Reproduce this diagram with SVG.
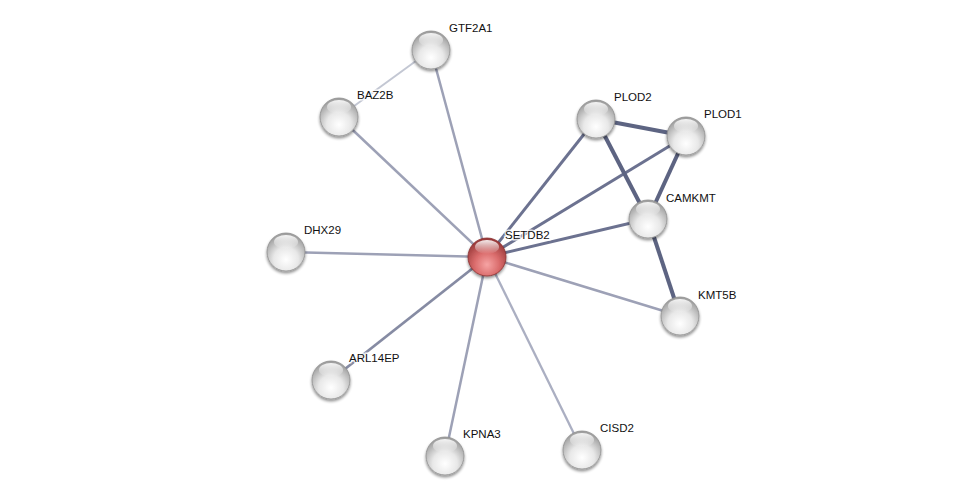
<svg xmlns="http://www.w3.org/2000/svg" width="976" height="501" viewBox="0 0 976 501">
<style>
.e{fill:none;stroke-linecap:butt}
.w1{stroke:#c3c7d3;stroke-width:2}
.w0{stroke:#abafc2;stroke-width:2.3}
.w2{stroke:#9da1b6;stroke-width:2.5}
.w5{stroke:#868ba3;stroke-width:2.8}
.w3{stroke:#6c7290;stroke-width:3}
.w4{stroke:#5d6482;stroke-width:4}
text{font-family:"Liberation Sans",Arial,sans-serif;font-size:11.5px;fill:#111;paint-order:stroke;stroke:#fff;stroke-width:3px;stroke-opacity:0.8}
</style>
<defs>
<radialGradient id="g" cx="0.5" cy="0.7" r="0.65">
<stop offset="0" stop-color="#ffffff"/>
<stop offset="0.5" stop-color="#e8e8e8"/>
<stop offset="1" stop-color="#a0a0a0"/>
</radialGradient>
<radialGradient id="gr" cx="0.5" cy="0.7" r="0.65">
<stop offset="0" stop-color="#f6a4a4"/>
<stop offset="0.5" stop-color="#da6c6c"/>
<stop offset="1" stop-color="#9a3a3a"/>
</radialGradient>
<linearGradient id="hl" x1="0" y1="0" x2="0" y2="1">
<stop offset="0" stop-color="#fff" stop-opacity="0.9"/>
<stop offset="1" stop-color="#fff" stop-opacity="0"/>
</linearGradient>
<filter id="sh" x="-30%" y="-30%" width="160%" height="170%">
<feGaussianBlur in="SourceAlpha" stdDeviation="1.5"/>
<feOffset dy="2" result="b"/>
<feComponentTransfer><feFuncA type="linear" slope="0.45"/></feComponentTransfer>
<feMerge><feMergeNode/><feMergeNode in="SourceGraphic"/></feMerge>
</filter>
<g id="ball">
<circle r="19" fill="url(#g)" stroke="#8f8f8f" stroke-width="0.8" filter="url(#sh)"/>
<ellipse cy="-10" rx="12" ry="7" fill="url(#hl)"/>
</g>
</defs>
<rect width="976" height="501" fill="#fff"/>
<g id="edges">
<line class="e w1" x1="339" y1="117" x2="431" y2="50"/>
<line class="e w2" x1="487" y1="257" x2="431" y2="50"/>
<line class="e w2" x1="487" y1="257" x2="339" y2="117"/>
<line class="e w2" x1="487" y1="257" x2="286" y2="252"/>
<line class="e w5" x1="487" y1="257" x2="331" y2="380"/>
<line class="e w2" x1="487" y1="257" x2="445" y2="456"/>
<line class="e w0" x1="487" y1="257" x2="582" y2="450"/>
<line class="e w2" x1="487" y1="257" x2="680" y2="316"/>
<line class="e w3" x1="487" y1="257" x2="596" y2="119"/>
<line class="e w3" x1="487" y1="257" x2="686" y2="136"/>
<line class="e w3" x1="487" y1="257" x2="648" y2="219"/>
<line class="e w4" x1="596" y1="119" x2="686" y2="136"/>
<line class="e w4" x1="596" y1="119" x2="648" y2="219"/>
<line class="e w4" x1="686" y1="136" x2="648" y2="219"/>
<line class="e w4" x1="648" y1="219" x2="680" y2="316"/>
</g>
<g id="GTF2A1"><use href="#ball" x="431" y="50"/><text x="449" y="32">GTF2A1</text></g>
<g id="BAZ2B"><use href="#ball" x="339" y="117"/><text x="357" y="99">BAZ2B</text></g>
<g id="PLOD2"><use href="#ball" x="596" y="119"/><text x="614" y="101">PLOD2</text></g>
<g id="PLOD1"><use href="#ball" x="686" y="136"/><text x="704" y="118">PLOD1</text></g>
<g id="CAMKMT"><use href="#ball" x="648" y="219"/><text x="666" y="202">CAMKMT</text></g>
<g id="DHX29"><use href="#ball" x="286" y="252"/><text x="304" y="234">DHX29</text></g>
<g id="KMT5B"><use href="#ball" x="680" y="316"/><text x="698" y="299">KMT5B</text></g>
<g id="ARL14EP"><use href="#ball" x="331" y="380"/><text x="349" y="362">ARL14EP</text></g>
<g id="KPNA3"><use href="#ball" x="445" y="456"/><text x="463" y="438">KPNA3</text></g>
<g id="CISD2"><use href="#ball" x="582" y="450"/><text x="600" y="432">CISD2</text></g>
<g id="SETDB2">
<circle cx="487" cy="257" r="19" fill="url(#gr)" stroke="#8a3030" stroke-width="0.8" filter="url(#sh)"/>
<ellipse cx="487" cy="247" rx="12" ry="7" fill="url(#hl)"/>
<text x="505" y="239">SETDB2</text>
</g>
</svg>
